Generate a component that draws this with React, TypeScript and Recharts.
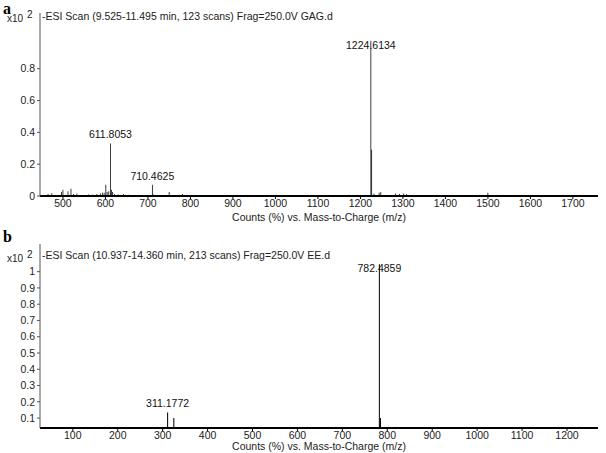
import React from "react";
import { BarChart, Bar, XAxis, YAxis, LabelList } from "recharts";

// panel a: GAG.d scan
const mzA = [465, 474, 497, 500, 512, 519, 525, 533, 560, 570, 580, 588, 593, 597, 601, 604, 608, 611.8053, 614, 617, 621, 630, 643, 655, 710.4625, 713, 750, 781, 1224.6134, 1226.6, 1232, 1244, 1248, 1283, 1292, 1302, 1309, 1500];
const intA = [0.012, 0.017, 0.025, 0.04, 0.03, 0.045, 0.012, 0.015, 0.01, 0.008, 0.012, 0.015, 0.02, 0.02, 0.07, 0.025, 0.03, 0.33, 0.04, 0.025, 0.012, 0.01, 0.012, 0.008, 0.07, 0.01, 0.025, 0.012, 0.975, 0.29, 0.015, 0.02, 0.025, 0.015, 0.012, 0.015, 0.012, 0.02];
const labelsA = ["611.8053", "710.4625", "1224.6134"];
const xTicksA = [500, 600, 700, 800, 900, 1000, 1100, 1200, 1300, 1400, 1500, 1600, 1700];
const yTicksA = [0, 0.2, 0.4, 0.6, 0.8];

// panel b: EE.d scan
const mzB = [311.1772, 325, 782.4859, 785];
const intB = [0.135, 0.1, 1.045, 0.1];
const labelsB = ["311.1772", "782.4859"];
const xTicksB = [100, 200, 300, 400, 500, 600, 700, 800, 900, 1000, 1100, 1200];
const yTicksB = [0.1, 0.2, 0.3, 0.4, 0.5, 0.6, 0.7, 0.8, 0.9, 1];

const FONT = "'Liberation Sans', Arial, sans-serif";

function build(mz: number[], ints: number[], labels: string[]) {
  return mz.map((m, i) => {
    const txt = m.toFixed(4);
    return { mz: m, y: ints[i], label: labels.includes(txt) ? txt : "" };
  });
}

const peakLabel = (rows: any[]) => (props: any) => {
  const { x, y, width, index } = props;
  const row = rows[index];
  if (!row || !row.label) return null;
  const big = row.y > 0.9;
  return (
    <text
      x={x + width / 2}
      y={big ? y + 8 : y - 5}
      textAnchor="middle"
      fontSize={10.5}
      fontFamily={FONT}
      fill="#111"
    >
      {row.label}
    </text>
  );
};

function Panel({ rows, letter, title, xDomain, xTicks, yDomain, yTicks, marginTop, height, axisH, labelOffset, top, titleY, x10Y }: any) {
  return (
    <div style={{ position: "absolute", left: 0, top, width: 606, height }}>
      <BarChart
        width={606}
        height={height}
        data={rows}
        margin={{ top: marginTop, right: 8, left: 0, bottom: 0 }}
      >
        <XAxis
          dataKey="mz"
          type="number"
          domain={xDomain}
          ticks={xTicks}
          allowDataOverflow
          height={axisH}
          tickSize={3}
          tickMargin={1}
          tick={{ fontSize: 10.5, fill: "#222", fontFamily: FONT }}
          axisLine={{ stroke: "#000", strokeWidth: 2 }}
          tickLine={{ stroke: "#000" }}
          label={{ value: "Counts (%) vs. Mass-to-Charge (m/z)", position: "insideBottom", offset: labelOffset, fontSize: 10.5, fill: "#222", fontFamily: FONT }}
        />
        <XAxis xAxisId="top" orientation="top" type="number" domain={xDomain} height={0} tick={false} tickLine={false} axisLine={{ stroke: "#777" }} />
        <YAxis
          type="number"
          domain={yDomain}
          ticks={yTicks}
          allowDataOverflow
          width={40}
          tickSize={3}
          tickMargin={2}
          tick={{ fontSize: 10.5, fill: "#222", fontFamily: FONT }}
          axisLine={{ stroke: "#555" }}
          tickLine={{ stroke: "#555" }}
        />
        <YAxis yAxisId="r" orientation="right" width={0} tick={false} tickLine={false} axisLine={{ stroke: "#444" }} />
        <Bar dataKey="y" fill="#000" barSize={1.3} isAnimationActive={false}>
          <LabelList dataKey="label" content={peakLabel(rows)} />
        </Bar>
        <text x={7} y={x10Y + 10} fontSize={10} fontFamily={FONT} fill="#222">x10</text>
        <text x={27} y={x10Y + 6} fontSize={10} fontFamily={FONT} fill="#222">2</text>
        <text x={42} y={titleY + 10} fontSize={10.5} fontFamily={FONT} fill="#222">{title}</text>
        <text x={3} y={14} fontSize={16} fontWeight="bold" fontFamily="'Liberation Serif', serif" fill="#000">{letter}</text>
      </BarChart>
    </div>
  );
}

export default function App() {
  const rowsA = build(mzA, intA, labelsA);
  const rowsB = build(mzB, intB, labelsB);
  return (
    <div style={{ position: "absolute", left: 0, top: 0, width: 606, height: 453, background: "#fff" }}>
      <Panel
        rows={rowsA}
        letter="a"
        title="-ESI Scan (9.525-11.495 min, 123 scans) Frag=250.0V GAG.d"
        xDomain={[446, 1759]}
        xTicks={xTicksA}
        yDomain={[0, 1.15]}
        yTicks={yTicksA}
        marginTop={13}
        height={225}
        axisH={29}
        labelOffset={4}
        top={0}
        titleY={10}
        x10Y={12}
      />
      <Panel
        rows={rowsB}
        letter="b"
        title="-ESI Scan (10.937-14.360 min, 213 scans) Frag=250.0V EE.d"
        xDomain={[27, 1269]}
        xTicks={xTicksB}
        yDomain={[0.039, 1.17]}
        yTicks={yTicksB}
        marginTop={16}
        height={225}
        axisH={25}
        labelOffset={3}
        top={228}
        titleY={21}
        x10Y={24}
      />
    </div>
  );
}
